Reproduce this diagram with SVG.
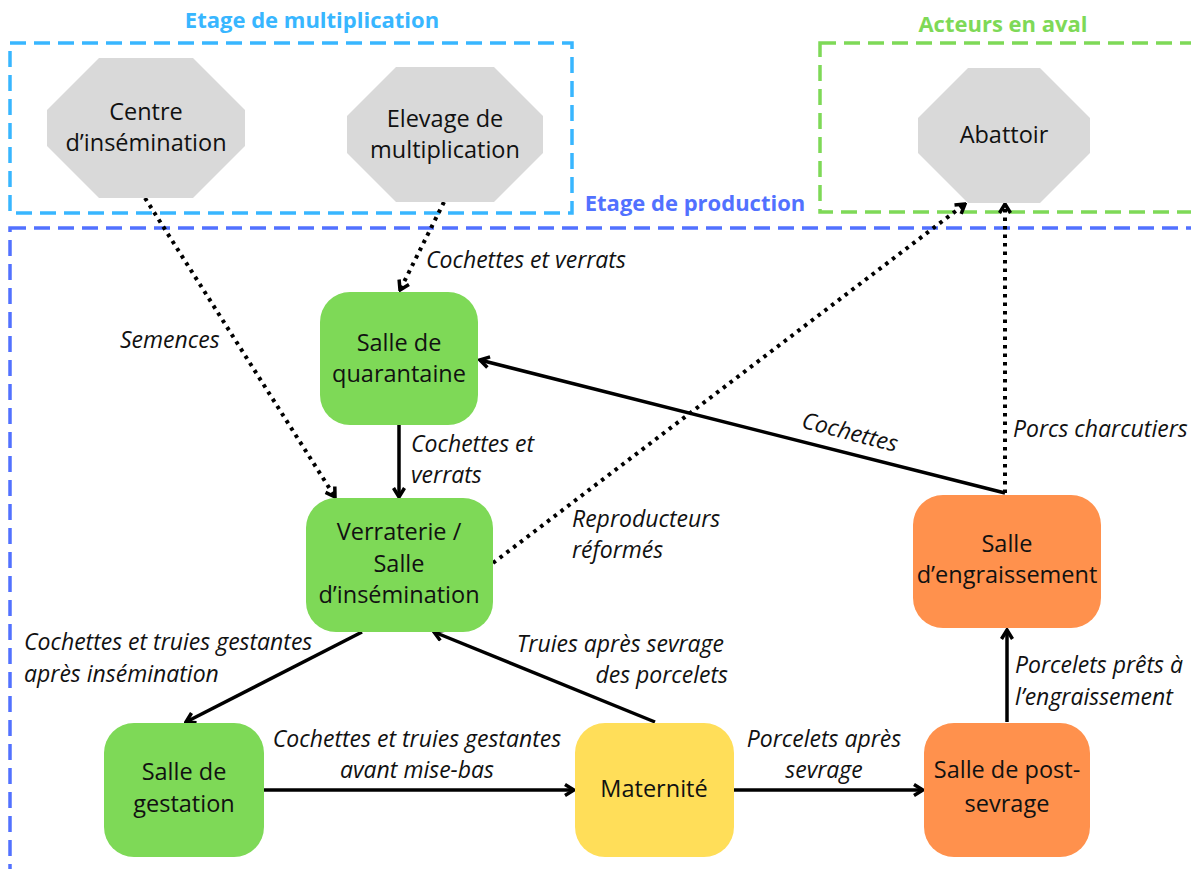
<svg xmlns="http://www.w3.org/2000/svg" width="1191" height="869" viewBox="0 0 1191 869">
<style>
.t{font-family:"Open Sans","Liberation Sans",sans-serif;font-size:23.5px;fill:#111;text-anchor:middle}
.l{font-family:"Open Sans","Liberation Sans",sans-serif;font-size:23px;font-style:italic;fill:#111}
.h{font-family:"Open Sans","Liberation Sans",sans-serif;font-size:22px;font-weight:bold;text-anchor:middle}
.oct{fill:#d9d9d9}
.g{fill:#7ed957}.o{fill:#ff914d}.y{fill:#ffde59}
.zone{fill:none;stroke-width:3.5;stroke-dasharray:16 8}
.s{fill:none;stroke:#000;stroke-width:3.5}
.d{fill:none;stroke:#000;stroke-width:4;stroke-dasharray:3.5 5}
</style>
<defs>
<marker id="ah" viewBox="0 0 14 14" refX="12" refY="7" markerWidth="14" markerHeight="14" markerUnits="userSpaceOnUse" orient="auto">
<path d="M3,1.5 L12,7 L3,12.5" fill="none" stroke="#000" stroke-width="3.5" stroke-linejoin="miter"/>
</marker>
</defs>
<rect width="1191" height="869" fill="#fff"/>
<g id="zone-multiplication">
<rect class="zone" x="10" y="43" width="562" height="170" stroke="#38b6ff"/>
<text class="h" x="312" y="28" fill="#38b6ff">Etage de multiplication</text>
</g>
<g id="zone-aval">
<rect class="zone" x="820" y="43" width="390" height="169" stroke="#7ed957"/>
<text class="h" x="1003" y="32" fill="#7ed957">Acteurs en aval</text>
</g>
<g id="zone-production">
<rect class="zone" x="10" y="228" width="1210" height="700" stroke="#5271ff"/>
<text class="h" x="695" y="211" fill="#5271ff">Etage de production</text>
</g>
<g id="connectors">
<line class="d" x1="145" y1="198" x2="335" y2="497" marker-end="url(#ah)"/>
<line class="d" x1="444" y1="202" x2="400" y2="290" marker-end="url(#ah)"/>
<line class="s" x1="399" y1="425" x2="399" y2="497" marker-end="url(#ah)"/>
<line class="d" x1="493" y1="563" x2="965" y2="204" marker-end="url(#ah)"/>
<line class="d" x1="1005" y1="493" x2="1005" y2="204" marker-end="url(#ah)"/>
<line class="s" x1="1005" y1="493" x2="480" y2="360" marker-end="url(#ah)"/>
<line class="s" x1="362" y1="632" x2="186" y2="722" marker-end="url(#ah)"/>
<line class="s" x1="655" y1="722" x2="434" y2="632" marker-end="url(#ah)"/>
<line class="s" x1="264" y1="790" x2="574" y2="790" marker-end="url(#ah)"/>
<line class="s" x1="734" y1="790" x2="923" y2="790" marker-end="url(#ah)"/>
<line class="s" x1="1007" y1="722" x2="1007" y2="630" marker-end="url(#ah)"/>
<text class="l" x="120" y="348">Semences</text>
<text class="l" x="426" y="268">Cochettes et verrats</text>
<text class="l" x="411" y="452">Cochettes et</text>
<text class="l" x="411" y="483">verrats</text>
<text class="l" x="572" y="527">Reproducteurs</text>
<text class="l" x="572" y="558">réformés</text>
<text class="l" x="1013" y="437">Porcs charcutiers</text>
<text class="l" x="850" y="440" text-anchor="middle" transform="rotate(14.5 850 432)">Cochettes</text>
<text class="l" x="24" y="650">Cochettes et truies gestantes</text>
<text class="l" x="24" y="682">après insémination</text>
<text class="l" x="724" y="652" text-anchor="end">Truies après sevrage</text>
<text class="l" x="728" y="683" text-anchor="end">des porcelets</text>
<text class="l" x="417" y="747" text-anchor="middle">Cochettes et truies gestantes</text>
<text class="l" x="417" y="778" text-anchor="middle">avant mise-bas</text>
<text class="l" x="824" y="747" text-anchor="middle">Porcelets après</text>
<text class="l" x="824" y="778" text-anchor="middle">sevrage</text>
<text class="l" x="1015" y="673">Porcelets prêts à</text>
<text class="l" x="1015" y="705">l’engraissement</text>
</g>
<g id="centre-insemination">
<polygon class="oct" points="99,58 193,58 245,110 245,146 193,198 99,198 47,146 47,110"/>
<text class="t" x="146" y="120">Centre</text>
<text class="t" x="146" y="151">d’insémination</text>
</g>
<g id="elevage-multiplication">
<polygon class="oct" points="396,67 494,67 543,116 543,153 494,202 396,202 347,153 347,116"/>
<text class="t" x="445" y="127">Elevage de</text>
<text class="t" x="445" y="158">multiplication</text>
</g>
<g id="abattoir">
<polygon class="oct" points="968,68 1040,68 1090,118 1090,153 1040,203 968,203 918,153 918,118"/>
<text class="t" x="1004" y="143">Abattoir</text>
</g>
<g id="quarantaine">
<rect class="g" x="320" y="292" width="158" height="133" rx="30"/>
<text class="t" x="399" y="351">Salle de</text>
<text class="t" x="399" y="382">quarantaine</text>
</g>
<g id="verraterie">
<rect class="g" x="306" y="498" width="187" height="134" rx="30"/>
<text class="t" x="399" y="540">Verraterie /</text>
<text class="t" x="399" y="572">Salle</text>
<text class="t" x="399" y="603">d’insémination</text>
</g>
<g id="engraissement">
<rect class="o" x="913" y="495" width="188" height="133" rx="30"/>
<text class="t" x="1007" y="552">Salle</text>
<text class="t" x="1007" y="583">d’engraissement</text>
</g>
<g id="gestation">
<rect class="g" x="104" y="723" width="160" height="134" rx="30"/>
<text class="t" x="184" y="780">Salle de</text>
<text class="t" x="184" y="812">gestation</text>
</g>
<g id="maternite">
<rect class="y" x="575" y="723" width="159" height="134" rx="30"/>
<text class="t" x="654" y="797">Maternité</text>
</g>
<g id="post-sevrage">
<rect class="o" x="924" y="723" width="166" height="134" rx="30"/>
<text class="t" x="1007" y="778">Salle de post-</text>
<text class="t" x="1007" y="812">sevrage</text>
</g>
</svg>
